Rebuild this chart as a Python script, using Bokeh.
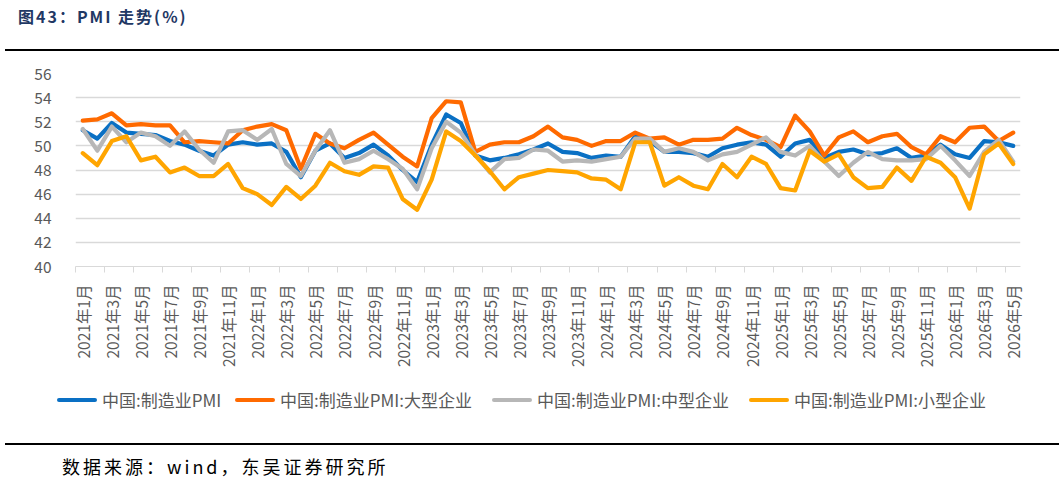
import math
from bokeh.plotting import figure
from bokeh.models import Range1d, FixedTicker, Div
from bokeh.layouts import column
from bokeh.embed import file_html
from bokeh.resources import INLINE

# ---------------- data ----------------
months = [
    "2021年1月", "2021年2月", "2021年3月", "2021年4月", "2021年5月", "2021年6月",
    "2021年7月", "2021年8月", "2021年9月", "2021年10月", "2021年11月", "2021年12月",
    "2022年1月", "2022年2月", "2022年3月", "2022年4月", "2022年5月", "2022年6月",
    "2022年7月", "2022年8月", "2022年9月", "2022年10月", "2022年11月", "2022年12月",
    "2023年1月", "2023年2月", "2023年3月", "2023年4月", "2023年5月", "2023年6月",
    "2023年7月", "2023年8月", "2023年9月", "2023年10月", "2023年11月", "2023年12月",
    "2024年1月", "2024年2月", "2024年3月", "2024年4月", "2024年5月", "2024年6月",
    "2024年7月", "2024年8月", "2024年9月", "2024年10月", "2024年11月", "2024年12月",
    "2025年1月", "2025年2月", "2025年3月", "2025年4月", "2025年5月", "2025年6月",
    "2025年7月", "2025年8月", "2025年9月", "2025年10月", "2025年11月", "2025年12月",
    "2026年1月", "2026年2月", "2026年3月", "2026年4月", "2026年5月",
]

pmi_total = [
    51.3, 50.6, 51.9, 51.1, 51.0, 50.9, 50.4, 50.1, 49.6, 49.2, 50.1, 50.3,
    50.1, 50.2, 49.5, 47.4, 49.6, 50.2, 49.0, 49.4, 50.1, 49.2, 48.0, 47.0,
    50.1, 52.6, 51.9, 49.2, 48.8, 49.0, 49.3, 49.7, 50.2, 49.5, 49.4, 49.0,
    49.2, 49.1, 50.8, 50.4, 49.5, 49.5, 49.4, 49.1, 49.8, 50.1, 50.3, 50.1,
    49.1, 50.2, 50.5, 49.0, 49.5, 49.7, 49.3, 49.4, 49.8, 49.0, 49.2, 50.1,
    49.3, 49.0, 50.4, 50.3, 50.0,
]

pmi_large = [
    52.1, 52.2, 52.7, 51.7, 51.8, 51.7, 51.7, 50.3, 50.4, 50.3, 50.2, 51.3,
    51.6, 51.8, 51.3, 48.1, 51.0, 50.2, 49.8, 50.5, 51.1, 50.1, 49.1, 48.3,
    52.3, 53.7, 53.6, 49.5, 50.1, 50.3, 50.3, 50.8, 51.6, 50.7, 50.5, 50.0,
    50.4, 50.4, 51.1, 50.6, 50.7, 50.1, 50.5, 50.5, 50.6, 51.5, 50.9, 50.5,
    49.9, 52.5, 51.2, 49.2, 50.7, 51.2, 50.3, 50.8, 51.0, 49.9, 49.3, 50.8,
    50.3, 51.5, 51.6, 50.4, 51.1,
]

pmi_medium = [
    51.4, 49.6, 51.6, 50.3, 51.1, 50.8, 50.0, 51.2, 49.7, 48.6, 51.2, 51.3,
    50.5, 51.4, 48.5, 47.5, 49.6, 51.3, 48.6, 48.9, 49.6, 48.9, 48.1, 46.4,
    49.8, 52.0, 51.1, 49.3, 47.8, 48.9, 49.0, 49.7, 49.6, 48.7, 48.8, 48.7,
    48.9, 49.1, 50.6, 50.6, 49.5, 49.8, 49.5, 48.8, 49.3, 49.5, 50.1, 50.7,
    49.5, 49.2, 50.0, 48.7, 47.5, 48.6, 49.5, 48.9, 48.8, 48.8, 48.9, 50.0,
    48.8, 47.5, 49.5, 50.5, 48.7,
]

pmi_small = [
    49.4, 48.4, 50.4, 50.8, 48.8, 49.1, 47.8, 48.2, 47.5, 47.5, 48.5, 46.5,
    46.0, 45.1, 46.6, 45.6, 46.7, 48.6, 47.9, 47.6, 48.3, 48.2, 45.6, 44.7,
    47.2, 51.2, 50.4, 49.2, 47.9, 46.4, 47.4, 47.7, 48.0, 47.9, 47.8, 47.3,
    47.2, 46.4, 50.3, 50.3, 46.7, 47.4, 46.7, 46.4, 48.5, 47.4, 49.1, 48.5,
    46.5, 46.3, 49.6, 48.7, 49.3, 47.4, 46.5, 46.6, 48.2, 47.1, 49.1, 48.6,
    47.4, 44.8, 49.3, 50.2, 48.5,
]

series_names = [
    "中国:制造业PMI",
    "中国:制造业PMI:大型企业",
    "中国:制造业PMI:中型企业",
    "中国:制造业PMI:小型企业",
]
series_colors = ["#0A70C4", "#FF6A00", "#B7B7B7", "#FFA500"]

y_ticks = [40, 42, 44, 46, 48, 50, 52, 54, 56]

title_text = "图43：PMI 走势(%)"
source_text = "数据来源：wind，东吴证券研究所"

# ---------------- main figure ----------------
FONT = "Noto Sans CJK SC"
GREY = "#595959"
n = len(months)
xs = list(range(n))

p = figure(
    width=1064, height=328,
    x_range=Range1d(-0.5, n - 0.5), y_range=Range1d(y_ticks[0], y_ticks[-1]),
    output_backend="svg", toolbar_location=None,
    min_border_left=75, min_border_right=44, min_border_top=21, min_border_bottom=114,
)
p.outline_line_color = None
p.background_fill_color = "white"
p.border_fill_color = "white"

label_idx = list(range(0, n, 2))
p.xaxis.ticker = FixedTicker(ticks=label_idx,
                             minor_ticks=[i - 0.5 for i in range(0, n, 2)])
p.xaxis.major_label_overrides = {i: months[i] for i in label_idx}
p.xaxis.major_label_orientation = math.pi / 2
p.xaxis.major_tick_in = 0
p.xaxis.major_tick_out = 0
p.xaxis.minor_tick_in = 0
p.xaxis.minor_tick_out = 6
p.xaxis.minor_tick_line_color = "#D9D9D9"
p.xaxis.axis_line_color = "#D9D9D9"
p.xaxis.major_label_standoff = 12
p.xaxis.major_label_text_font = FONT
p.xaxis.major_label_text_font_size = "15.5px"
p.xaxis.major_label_text_color = GREY

p.yaxis.ticker = FixedTicker(ticks=y_ticks)
p.yaxis.axis_line_color = None
p.yaxis.major_tick_line_color = None
p.yaxis.minor_tick_line_color = None
p.yaxis.major_label_standoff = 18
p.yaxis.major_label_text_font = FONT
p.yaxis.major_label_text_font_size = "15.5px"
p.yaxis.major_label_text_color = GREY

p.xgrid.visible = False
p.ygrid.ticker = FixedTicker(ticks=y_ticks)
p.ygrid.grid_line_color = "#D9D9D9"
p.ygrid.grid_line_width = 1.5

for vals, col in zip([pmi_total, pmi_large, pmi_medium, pmi_small], series_colors):
    p.line(xs, vals, line_color=col, line_width=4.2,
           line_join="round", line_cap="round")

# ---------------- legend strip (HTML) ----------------
leg_glyph_left = [57, 235, 492, 749]
items_html = ""
for nm, col, gx in zip(series_names, series_colors, leg_glyph_left):
    items_html += (
        f'<div style="position:absolute;left:{gx}px;top:18px;width:40px;height:4px;'
        f'border-radius:2px;background:{col}"></div>'
        f'<div style="position:absolute;left:{gx + 45}px;top:8px;height:24px;line-height:24px;'
        f'font-family:\'Noto Sans CJK SC\';font-size:17px;color:{GREY};white-space:nowrap">{nm}</div>'
    )
legend_div = Div(
    text=f'<div style="position:relative;width:1064px;height:63px;">{items_html}</div>',
    width=1064, height=63, margin=0,
)

# ---------------- title and source ----------------
title_div = Div(
    text=('<div style="position:relative;width:1064px;height:52px;">'
          '<div style="position:absolute;left:18px;top:5px;font-family:\'Noto Sans CJK SC\';'
          'font-weight:bold;font-size:16px;letter-spacing:2px;color:#1F3864;white-space:nowrap">'
          + title_text + '</div>'
          '<div style="position:absolute;left:5px;top:49px;width:1054px;height:2px;background:#000"></div>'
          '</div>'),
    width=1064, height=52, margin=0,
)

source_div = Div(
    text=('<div style="position:relative;width:1064px;height:47px;">'
          '<div style="position:absolute;left:5px;top:0px;width:1054px;height:2px;background:#000"></div>'
          '<div style="position:absolute;left:62px;top:11px;font-family:\'Noto Sans CJK SC\';'
          'font-size:18px;letter-spacing:3px;color:#000;white-space:nowrap">'
          + source_text + '</div>'
          '</div>'),
    width=1064, height=47, margin=0,
)

layout = column(title_div, p, legend_div, source_div, spacing=0)

open("out.html", "w").write(file_html(layout, INLINE))
